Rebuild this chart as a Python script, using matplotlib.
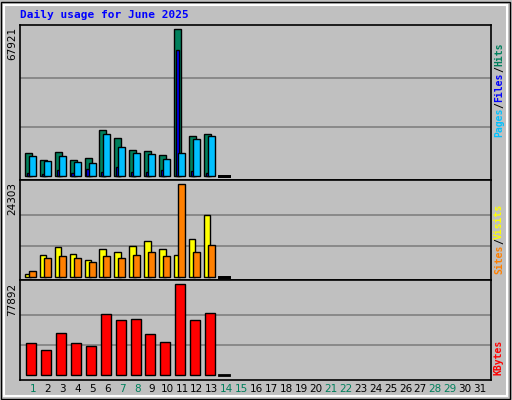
import matplotlib
matplotlib.use("Agg")
import matplotlib.pyplot as plt
import numpy as np

days = np.arange(1, 14)
hits = [10627, 7393, 11089, 7393, 8317, 21254, 17558, 12013, 11551, 9703, 67921, 18482, 19406]
files = [1540, 1078, 2926, 1540, 3388, 2002, 4312, 2002, 2002, 2926, 58218, 2464, 1540]
pages = [9241, 6931, 9241, 6469, 6007, 19406, 13399, 10627, 10165, 7855, 10627, 17096, 18482]
visits = [614, 5615, 7721, 5878, 4299, 7194, 6405, 7984, 9300, 7194, 5615, 9826, 16143]
sites = [1404, 4826, 5352, 4826, 3773, 5352, 4826, 5615, 6405, 5352, 24303, 6405, 8247]
kbytes = [27390, 21399, 35950, 27390, 24823, 52213, 47077, 47933, 35094, 28246, 77892, 47077, 53069]
weekend = [1, 7, 8, 14, 15, 21, 22, 28, 29]
max_labels = ["67921", "24303", "77892"]

BG = "#C0C0C0"
W, H = 512, 400
fig = plt.figure(figsize=(5.12, 4.0), dpi=100, facecolor=BG)

def px_axes(x0, y0, x1, y1):
    return fig.add_axes([x0 / W, 1 - y1 / H, (x1 - x0) / W, (y1 - y0) / H])

def setup(ax, top, base_px, top_px, y0, y1):
    # map value 0 -> base_px and top -> top_px
    scale = top / (base_px - top_px)
    ax.set_ylim(-(y1 - base_px) * scale, top + (top_px - y0) * scale)
    ax.set_xlim(0.13, 31.74)
    ax.set_facecolor(BG)
    for y in (top / 3, 2 * top / 3):
        ax.axhline(y, color="#808080", lw=1.2, zorder=0)
    ax.set_xticks([])
    ax.set_yticks([])
    for s in ax.spines.values():
        s.set_color("black")
        s.set_linewidth(1.2)

def bars(ax, vals, lo, hi, color):
    ax.bar(days + (lo + hi) / 2, vals, width=hi - lo, color=color,
           edgecolor="black", linewidth=1, zorder=2)
    ax.plot([14 - 0.5, 14 + 0.15], [0, 0], color="black", lw=2, zorder=2)

# top panel
ax1 = px_axes(20, 25, 491, 180)
setup(ax1, 67921, 176, 29, 25, 180)
bars(ax1, hits, -0.54, -0.07, "#00805C")
bars(ax1, files, -0.42, -0.18, "#0000FF")
bars(ax1, pages, -0.27, 0.2, "#00C0FF")

# middle panel
ax2 = px_axes(20, 180, 491, 280)
setup(ax2, 24303, 276.7, 184.3, 180, 280)
bars(ax2, visits, -0.54, -0.1, "#FFFF00")
bars(ax2, sites, -0.27, 0.2, "#FF8000")

# bottom panel
ax3 = px_axes(20, 280, 491, 380)
setup(ax3, 77892, 375.3, 284.3, 280, 380)
bars(ax3, kbytes, -0.45, 0.22, "#FF0000")

for d in range(1, 32):
    fig.text((20 + (d - 0.13) * 14.9) / W, 1 - 389 / H, str(d),
             ha="center", va="center", fontsize=7.5, family="DejaVu Sans",
             color="#00805C" if d in weekend else "black")

fig.text(20 / W, 1 - 15 / H, "Daily usage for June 2025", color="#0000FF",
         fontsize=8, family="DejaVu Sans Mono", weight="bold", va="center")

for label, ytop in zip(max_labels, [27, 182, 283]):
    fig.text(12 / W, 1 - ytop / H, label, rotation=90, ha="center", va="top",
             fontsize=7.5, family="DejaVu Sans")

def side_label(parts, ybottom):
    y = ybottom
    for txt, col in parts:
        fig.text(499 / W, 1 - y / H, txt, rotation=90, ha="center",
                 va="bottom", fontsize=7, family="DejaVu Sans Mono",
                 weight="bold", color=col)
        y -= len(txt) * 5.9

side_label([("Pages", "#00C0FF"), ("/", "black"), ("Files", "#0000FF"),
            ("/", "black"), ("Hits", "#00805C")], 137)
side_label([("Sites", "#FF8000"), ("/", "black"), ("Visits", "#FFFF00")], 274)
side_label([("KBytes", "#FF0000")], 375)

# bevel frame
fig.add_artist(plt.Rectangle((1 / W, 1 / H), 509 / W, 397 / H, transform=fig.transFigure,
                             fill=False, edgecolor="black", lw=1))
fig.add_artist(plt.Rectangle((4 / W, 4 / H), 503 / W, 391 / H, transform=fig.transFigure,
                             fill=False, edgecolor="white", lw=1.5))

fig.savefig("out.png", dpi=100, facecolor=BG)
